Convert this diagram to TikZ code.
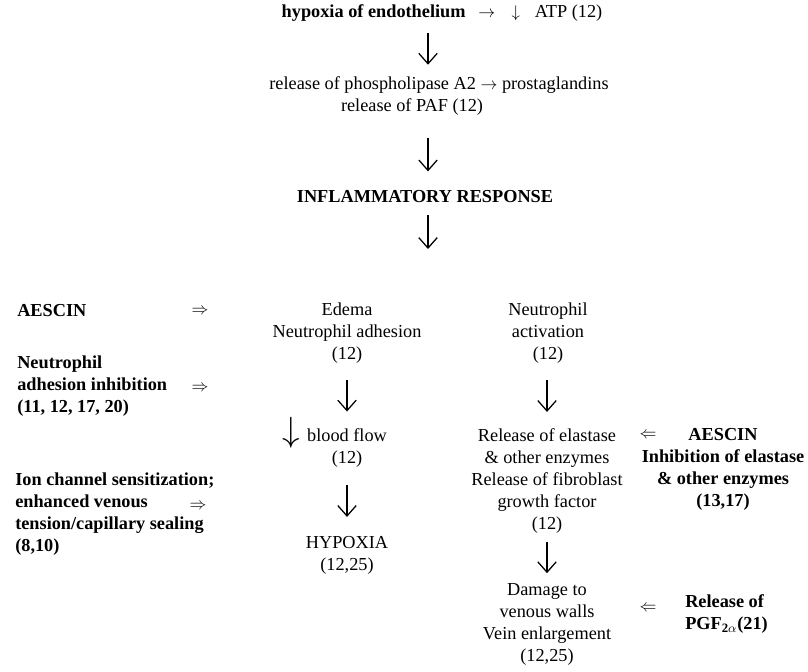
\documentclass[tikz,border=0pt]{standalone}
\usepackage{fontspec}
\setmainfont{Liberation Serif}
\usepackage{amsmath}
\usetikzlibrary{arrows.meta, positioning}
\tikzset{
  txt/.style ={align=center, inner sep=0pt, font=\fontsize{13}{15.65}\selectfont},
  bld/.style ={align=left, inner sep=0pt, font=\fontsize{13}{15.65}\selectfont\bfseries},
  sym/.style ={inner sep=0pt, font=\fontsize{13}{15.65}\selectfont},
  dn/.style  ={-{Straight Barb[length=2.6mm, width=4.6mm]}, line width=0.9pt},
}

\begin{document}
\begin{tikzpicture}[x=0.025cm, y=-0.025cm]
  \useasboundingbox (0,0) rectangle (808,671);
  % top chain
  \node[txt] (hyp) at (442,13) {\textbf{hypoxia of endothelium}\hspace{0.7em}$\rightarrow$\hspace{0.9em}$\downarrow$\hspace{0.8em}ATP (12)};
  \node[txt] (rel1) at (439,85) {release of phospholipase A2 $\rightarrow$ prostaglandins};
  \node[txt] (rel2) at (412,107) {release of PAF (12)};
  \node[txt, font=\fontsize{13}{15.65}\selectfont\bfseries] (infl) at (425,197) {INFLAMMATORY RESPONSE};
  \coordinate (fork) at (428,249);
  \draw[dn, shorten <=2.8mm, shorten >=2.9mm] (hyp.south -| fork) -- (rel1.north -| fork);
  \draw[dn, shorten <=5.5mm, shorten >=4.8mm] (rel2.south -| fork) -- (infl.north -| fork);
  \draw[dn, shorten <=3mm] (infl.south -| fork) -- (fork);
  % left column
  \node[bld, anchor=west] (aes1) at (17,311) {AESCIN};
  \node[bld, anchor=west] (ninh) at (17,386) {Neutrophil\\adhesion inhibition\\(11, 12, 17, 20)};
  \node[bld, anchor=west] (ion) at (15,514) {Ion channel sensitization;\\enhanced venous\\tension/capillary sealing\\(8,10)};
  \node[sym] (imp1) at (200,311) {$\Rightarrow$};
  \node[sym] (imp2) at (200,388) {$\Rightarrow$};
  \node[sym] (imp3) at (198,506) {$\Rightarrow$};
  % middle column
  \node[txt] (edema) at (347,333) {Edema\\Neutrophil adhesion\\(12)};
  \node[txt] (bf) at (347,448) {blood flow\\(12)};
  \node[sym, font=\fontsize{26}{26}\selectfont] (bfdn) at (291,433) {$\downarrow$};
  \node[txt] (hypox) at (347,555) {HYPOXIA\\(12,25)};
  \draw[dn, shorten <=4.2mm, shorten >=4.2mm] (edema) -- (bf);
  \draw[dn, shorten <=4.4mm, shorten >=4.7mm] (bf) -- (hypox);
  % right column
  \node[txt] (nact) at (548,333) {Neutrophil\\activation\\(12)};
  \node[txt] (elas) at (547,481) {Release of elastase\\\& other enzymes\\Release of fibroblast\\growth factor\\(12)};
  \node[txt] (dam) at (547,624) {Damage to\\venous walls\\Vein enlargement\\(12,25)};
  \draw[dn, shorten <=4.2mm, shorten >=4.1mm] (nact.south -| elas) -- (elas);
  \draw[dn, shorten <=2.1mm, shorten >=2.4mm] (elas) -- (dam);
  \node[sym] (imp4) at (648,435) {$\Leftarrow$};
  \node[sym] (imp5) at (648,608) {$\Leftarrow$};
  \node[bld, align=center] (aes2) at (723,469) {AESCIN\\Inhibition of elastase\\\& other enzymes\\(13,17)};
  \node[bld, anchor=west] (pgf) at (685,614) {Release of\\PGF$_{\mathbf{2}\alpha}$(21)};
\end{tikzpicture}
\end{document}
